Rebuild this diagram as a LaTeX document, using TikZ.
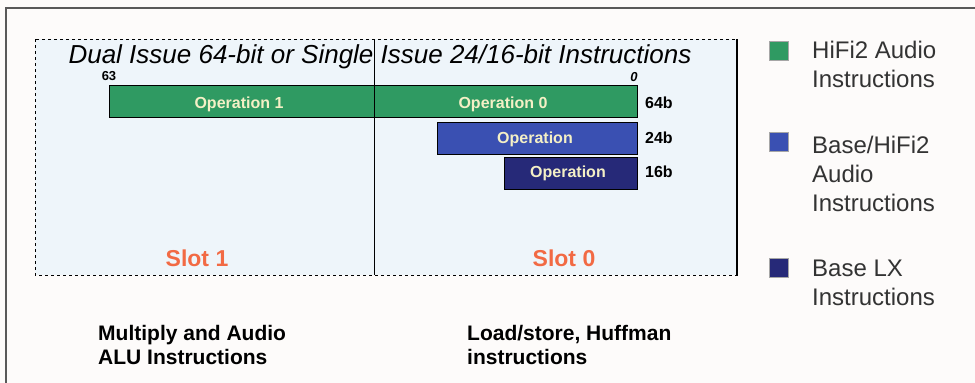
\documentclass[tikz,border=0pt]{standalone}
\usepackage{fontspec}
\setmainfont{Liberation Sans}
\usepackage{tikz}

\definecolor{hifigreen}{HTML}{2F9A62}
\definecolor{baseblue}{HTML}{3A50B2}
\definecolor{lxnavy}{HTML}{262978}
\definecolor{slotred}{HTML}{F26A44}
\definecolor{boxfill}{HTML}{EEF5FA}
\definecolor{optext}{HTML}{F4F0C6}
\definecolor{pagebg}{HTML}{FDFBFA}

\begin{document}
\begin{tikzpicture}[x=1pt,y=-1pt,
    bar/.style={draw=black, line width=1pt, minimum height=32pt, inner sep=0pt, anchor=north west},
    optxt/.style={anchor=base, inner sep=0pt, text=optext, font=\fontsize{16}{16}\selectfont\bfseries},
    bits/.style={anchor=base west, inner sep=0pt, font=\fontsize{16}{16}\selectfont\bfseries},
    slot/.style={anchor=base, inner sep=0pt, text=slotred, font=\fontsize{23}{23}\selectfont\bfseries},
    note/.style={align=left, anchor=base west, inner sep=0pt, font=\fontsize{21}{24}\selectfont\bfseries},
    key/.style={draw=black!35, line width=0.4pt, minimum size=19pt, inner sep=0pt},
    keytxt/.style={align=left, anchor=base west, inner sep=0pt, text=black!80, font=\fontsize{24}{29}\selectfont}]
    \useasboundingbox (0,0) rectangle (975,383);
    \fill[pagebg] (0,0) rectangle (975,383);
    \draw[black!65, line width=1.2pt] (6,383) -- (6,8) -- (975,8);

    % slot box
    \draw[dashed, line width=0.9pt, fill=boxfill] (35,39) rectangle (737,275);
    \draw[line width=1.3pt] (737,39) -- (737,275);

    \node [anchor=base, inner sep=0pt, font=\fontsize{26}{26}\selectfont\itshape] (title) at (380,63) {Dual Issue 64-bit or Single Issue 24/16-bit Instructions};
    \node [anchor=base, inner sep=0pt, font=\fontsize{13}{13}\selectfont\bfseries] (msb) at (109,80) {63};
    \node [anchor=base, inner sep=0pt, font=\fontsize{13}{13}\selectfont\bfseries\itshape] (lsb) at (634,81) {0};

    % instruction bars
    \node [bar, fill=hifigreen, minimum width=528pt] (w64) at (109,85) {};
    \node [bar, fill=baseblue, minimum width=200pt] (w24) at (437,122) {};
    \node [bar, fill=lxnavy, minimum width=133pt] (w16) at (504,157) {};
    \node [optxt] (op1) at (239,108) {Operation 1};
    \node [optxt] (op0) at (503,108) {Operation 0};
    \node [optxt] (op24) at (535,143) {Operation};
    \node [optxt] (op16) at (568,177) {Operation};
    \node [bits] (b64) at (645,108) {64b};
    \node [bits] (b24) at (645,143) {24b};
    \node [bits] (b16) at (645,177) {16b};

    \coordinate (divtop) at (374,39);
    \coordinate (divbot) at (374,275);
    \draw [line width=1pt] (divtop) -- (divbot);

    \node [slot] (slot1) at (197,266) {Slot 1};
    \node [slot] (slot0) at (564,266) {Slot 0};

    \node [note] (alu) at (98,364) {Multiply and Audio\\ALU Instructions};
    \node [note] (ls) at (467,364) {Load/store, Huffman\\instructions};

    % legend
    \node [key, fill=hifigreen] (k1) at (779,51) {};
    \node [key, fill=baseblue] (k2) at (779,142) {};
    \node [key, fill=lxnavy] (k3) at (779,268) {};
    \node [keytxt] (t1) at (812,87) {HiFi2 Audio\\Instructions};
    \node [keytxt] (t2) at (812,211) {Base/HiFi2\\Audio\\Instructions};
    \node [keytxt] (t3) at (812,305) {Base LX\\Instructions};
\end{tikzpicture}
\end{document}
